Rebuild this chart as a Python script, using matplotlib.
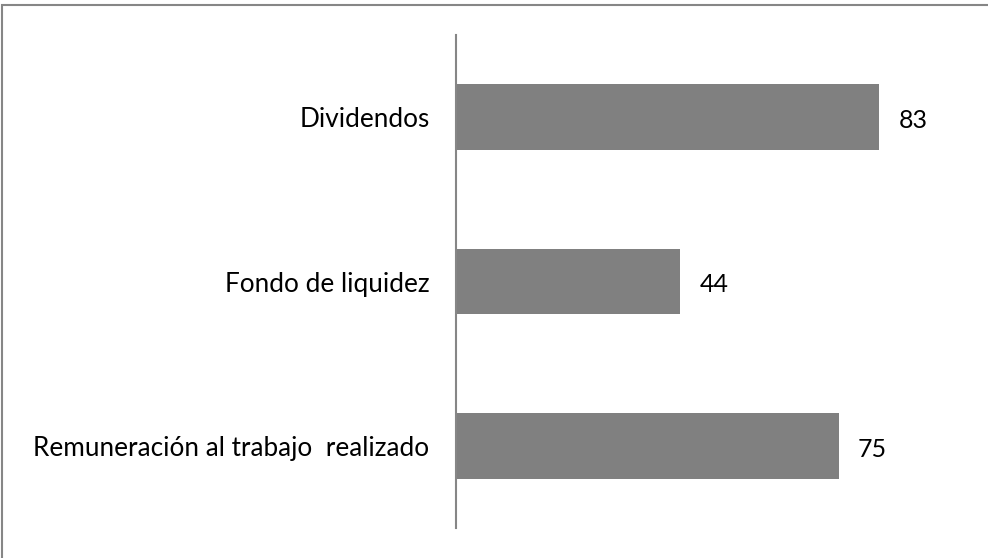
import matplotlib
matplotlib.use("Agg")
import matplotlib.pyplot as plt
from matplotlib.patches import Rectangle

# datos (de arriba hacia abajo)
categorias = ["Dividendos", "Fondo de liquidez", "Remuneración al trabajo  realizado"]
valores = [83, 44, 75]

plt.rcParams['font.family'] = ['Lato', 'DejaVu Sans']

fig = plt.figure(figsize=(9.88, 5.58), dpi=100)
W, H = 988, 558
# ejes: linea vertical de y=35 a y=528 px, x=456 px
ax = fig.add_axes([456 / W, 1 - 528 / H, 510 / W, (528 - 35) / H])

pos = list(range(len(categorias)))[::-1]
ax.barh(pos, valores, height=0.4, color='#808080')
ax.set_ylim(-0.5, 2.5)
ax.set_xlim(0, 100)

for p, v in zip(pos, valores):
    ax.annotate(str(v), (v, p), xytext=(14, -2.5), textcoords='offset points',
                va='center', ha='left', fontsize=18, color='#000000')

ax.set_yticks(pos)
ax.set_yticklabels(categorias, fontsize=18.8)
ax.tick_params(axis='y', length=0, pad=19)
ax.set_xticks([])
for s in ['top', 'right', 'bottom']:
    ax.spines[s].set_visible(False)
ax.spines['left'].set_color('#868686')
ax.spines['left'].set_linewidth(1.5)

# borde del grafico (solo visible arriba y a la izquierda)
fig.patches.append(Rectangle((2 / W, -0.1), 1.2, 1 - 5 / H + 0.1, transform=fig.transFigure,
                             fill=False, edgecolor='#868686', linewidth=1.5))

fig.savefig("out.png", dpi=100)
